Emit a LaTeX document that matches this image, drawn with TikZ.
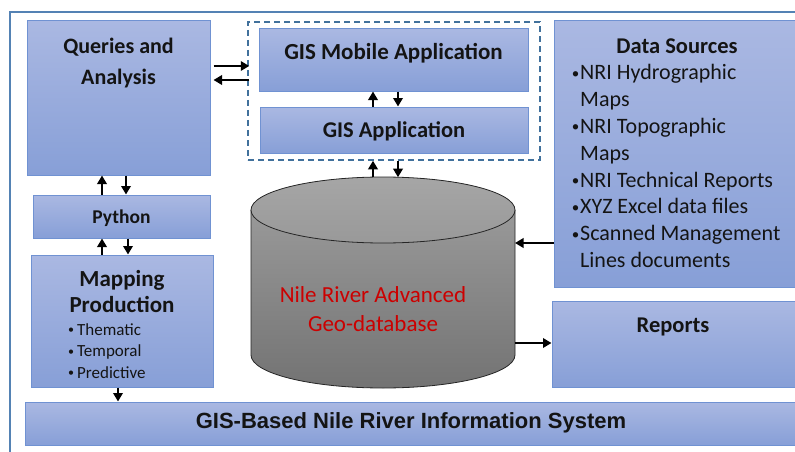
\documentclass[tikz,border=0pt]{standalone}
\usepackage{fontspec}
\setmainfont{Carlito}
\newfontfamily\arialfont{Liberation Sans}
\usetikzlibrary{arrows.meta}
\definecolor{boxtop}{RGB}{170,184,226}
\definecolor{boxbot}{RGB}{135,159,215}
\definecolor{boxline}{RGB}{112,146,210}
\definecolor{frameblue}{RGB}{84,130,180}
\definecolor{dashblue}{RGB}{65,113,156}
\definecolor{dbred}{RGB}{204,0,0}
\definecolor{cyltop}{RGB}{160,160,160}
\definecolor{cylbot}{RGB}{115,115,115}
\definecolor{txt}{RGB}{20,20,20}
\newcommand{\bigbul}{\makebox[9pt][l]{\hspace{0.6pt}\raisebox{1.6pt}{\fontsize{15}{15}\selectfont •}}}
\newcommand{\smallbul}{\makebox[10pt][l]{\hspace{1pt}\raisebox{1.2pt}{\fontsize{12}{12}\selectfont •}}}
\begin{document}
\begin{tikzpicture}[x=1pt,y=-1pt,
  box/.style={draw=boxline, line width=1pt, top color=boxtop, bottom color=boxbot, inner sep=0pt},
  ttl/.style={font=\bfseries\fontsize{22}{31}\selectfont, align=center, text=txt, inner sep=0pt},
  sttl/.style={font=\bfseries\fontsize{19.5}{24}\selectfont, align=center, text=txt, inner sep=0pt},
  arr/.style={-{Triangle[width=9.5pt,length=8.5pt]}, line width=1.9pt, black}]
\useasboundingbox (0,0) rectangle (795,452);
\clip (0,0) rectangle (795,452);
\fill[white] (0,0) rectangle (795,452);
% outer frame
\draw[frameblue, line width=1.5pt] (10,460) -- (10,12) -- (800,12);
% boxes
\node[box, minimum width=183pt, minimum height=154pt] (qa) at (118.5,98) {};
\node[box, minimum width=269pt, minimum height=62pt] (mob) at (393.5,60) {};
\node[box, minimum width=268pt, minimum height=46pt] (app) at (394,130) {};
\node[draw=dashblue, line width=1.5pt, dash pattern=on 6pt off 4pt, minimum width=292pt, minimum height=138pt, inner sep=0pt] (dash) at (394,91) {};
\node[box, minimum width=246pt, minimum height=266pt] (ds) at (677,154) {};
\node[box, minimum width=177pt, minimum height=43pt] (py) at (121.5,216.5) {};
\node[box, minimum width=182pt, minimum height=132pt] (map) at (122,321) {};
\node[box, minimum width=775pt, minimum height=43pt] (gis) at (412.5,423.5) {};
\node[box, minimum width=248pt, minimum height=86pt] (rep) at (676,344) {};
% cylinder
\path[top color=cyltop, bottom color=cylbot] (251,210) -- (251,355) arc (180:0:132 and 33) -- (515,210) arc (0:-180:132 and 33) -- cycle;
\draw[line width=0.8pt, black!85] (251,210) -- (251,355) arc (180:0:132 and 33) -- (515,210);
\draw[line width=0.8pt, black!85, top color=black!35, bottom color=black!40] (383,210) ellipse [x radius=132, y radius=33];
\coordinate (cylA) at (373,177.4);
\coordinate (cylB) at (398,177.2);
\coordinate (cylR1) at (515,243);
\coordinate (cylR2) at (515,343);
% texts
\node[ttl] (qat) at (118.5,63) {Queries and\\Analysis};
\node[ttl, font=\bfseries\fontsize{23}{30}\selectfont] (mobt) at (393.5,53.5) {GIS Mobile Application};
\node[ttl, font=\bfseries\fontsize{22.5}{30}\selectfont] (appt) at (394,131.5) {GIS Application};
\node[font=\bfseries\fontsize{22.5}{24}\selectfont, text=txt, inner sep=0pt] (dst) at (677,46.5) {Data Sources};
\node[font=\fontsize{22}{26.8}\selectfont, align=left, text=txt, inner sep=0pt, anchor=north west] (dsl) at (571,64.5)
 {\bigbul NRI Hydrographic\\
  \hspace*{9pt}Maps\\
  \bigbul NRI Topographic\\
  \hspace*{9pt}Maps\\
  \bigbul NRI Technical Reports\\
  \bigbul XYZ Excel data files\\
  \bigbul Scanned Management\\
  \hspace*{9pt}Lines documents};
\node[sttl] (pyt) at (121.5,218) {Python};
\node[ttl, font=\bfseries\fontsize{23}{26}\selectfont] (mapt) at (122,292) {Mapping\\Production};
\node[font=\fontsize{17}{21.5}\selectfont, align=left, text=txt, inner sep=0pt, anchor=north west] (mapl) at (67,323)
 {\smallbul Thematic\\
  \smallbul Temporal\\
  \smallbul Predictive};
\node[sttl, font=\bfseries\fontsize{22.5}{24}\selectfont] (rept) at (673,327) {Reports};
\node[font=\fontsize{23}{29}\selectfont, align=center, text=dbred, inner sep=0pt] (dbt) at (373,309) {Nile River Advanced\\Geo-database};
\node[font=\arialfont\bfseries\fontsize{22}{24}\selectfont, text=txt, inner sep=0pt] (gist) at (411,423) {GIS-Based Nile River Information System};
% arrows
\draw[arr] ([xshift=3pt,yshift=32pt]qa.east) -- ([xshift=2pt,yshift=25pt]dash.west);
\draw[arr] ([xshift=2pt,yshift=11pt]dash.west) -- ([xshift=3pt,yshift=18pt]qa.east);
\draw[arr] ([xshift=-21pt]app.north) -- ([xshift=-21pt]app.north |- mob.south);
\draw[arr] ([xshift=4pt]app.north |- mob.south) -- ([xshift=4pt]app.north);
\draw[arr] (cylA) -- (cylA |- dash.south);
\draw[arr] (cylB |- dash.south) -- (cylB);
\draw[arr] ([xshift=-19.5pt]py.north) -- ([xshift=-19.5pt]py.north |- qa.south);
\draw[arr] ([xshift=4.5pt]py.north |- qa.south) -- ([xshift=4.5pt]py.north);
\draw[arr] ([xshift=-20pt]map.north) -- ([xshift=-20pt]map.north |- py.south);
\draw[arr] ([xshift=6pt]map.north |- py.south) -- ([xshift=6pt]map.north);
\draw[arr] ([xshift=-4pt]map.south) -- ([xshift=-4pt]map.south |- gis.north);
\draw[arr] (ds.west |- cylR1) -- (cylR1);
\draw[arr] (cylR2) -- (cylR2 -| rep.west);
\end{tikzpicture}
\end{document}
